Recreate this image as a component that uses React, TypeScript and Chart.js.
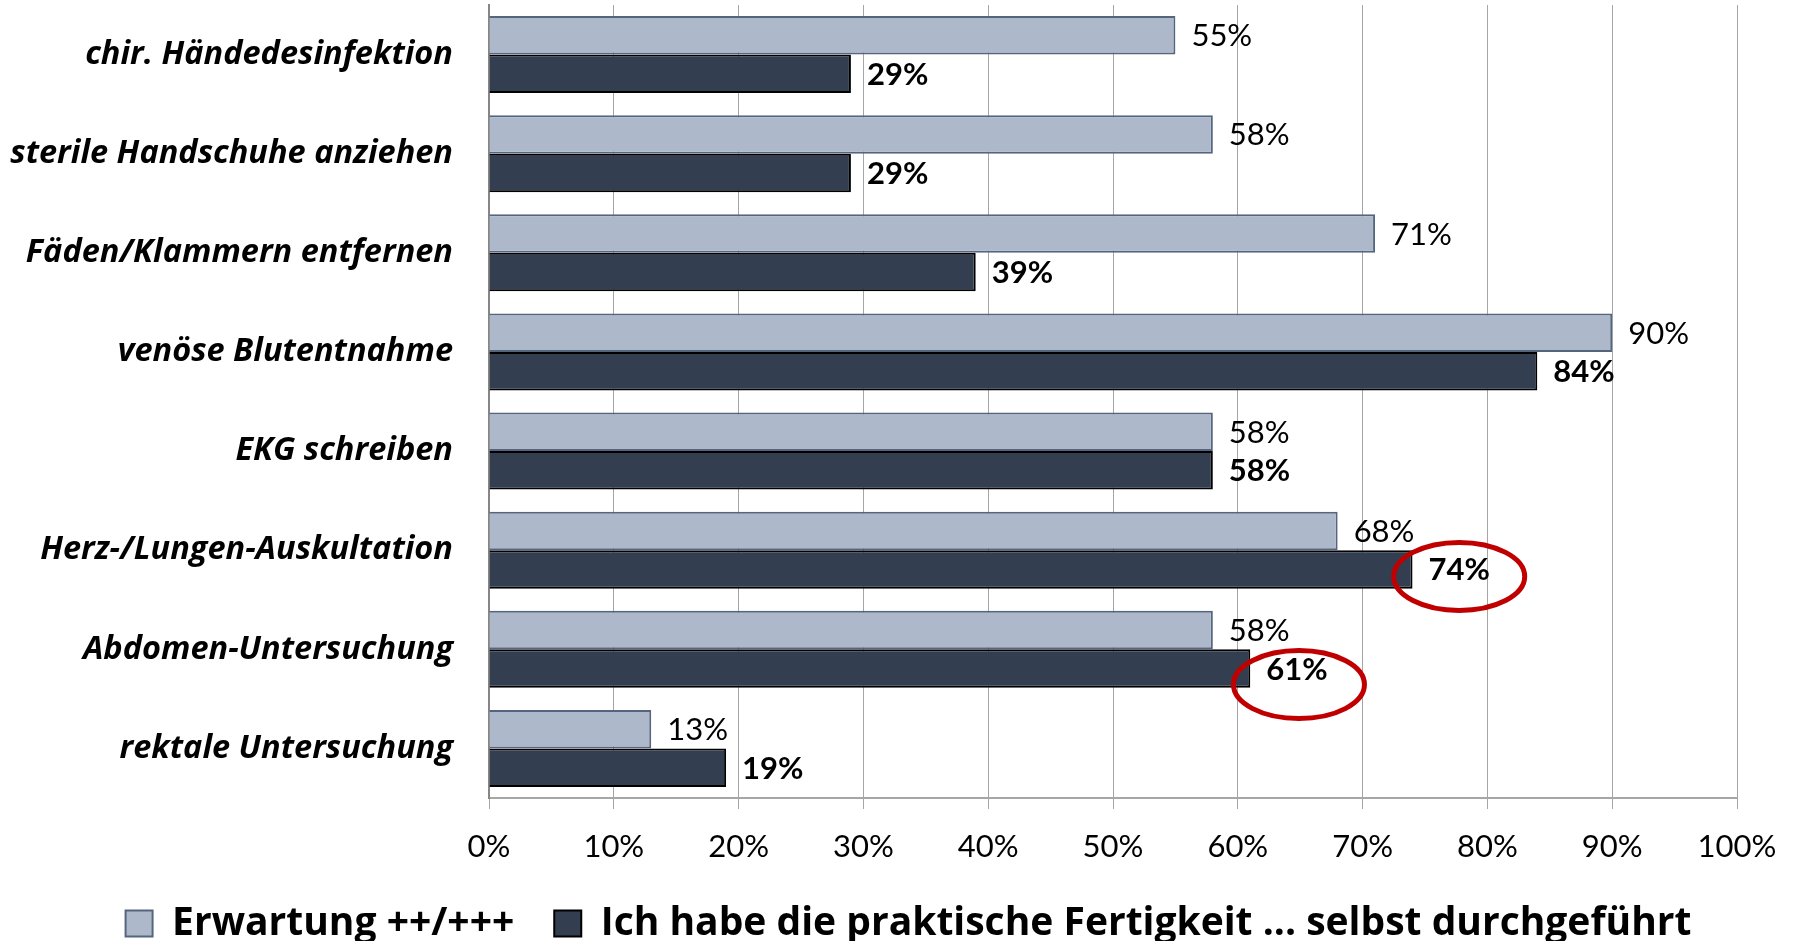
import React, { useEffect, useRef } from 'react';
import { Chart, registerables } from 'chart.js';

Chart.register(...registerables);

const categories = [
  'chir. Händedesinfektion',
  'sterile Handschuhe anziehen',
  'Fäden/Klammern entfernen',
  'venöse Blutentnahme',
  'EKG schreiben',
  'Herz-/Lungen-Auskultation',
  'Abdomen-Untersuchung',
  'rektale Untersuchung',
];
const erwartung = [55, 58, 71, 90, 58, 68, 58, 13];
const selbst = [29, 29, 39, 84, 58, 74, 61, 19];
const seriesNames = [
  'Erwartung ++/+++',
  'Ich habe die praktische Fertigkeit ... selbst durchgeführt',
];
const xTickSuffix = '%';
const circledSelbst = [5, 6];

const FONT = 'Lato';
const BOLD_FONT = '"Open Sans"';

const valueLabels = {
  id: 'valueLabels',
  afterDatasetsDraw(chart: any) {
    const ctx = chart.ctx;
    chart.data.datasets.forEach((ds: any, di: number) => {
      const meta = chart.getDatasetMeta(di);
      ctx.save();
      ctx.font = (di === 1 ? 'bold ' : '') + '31px ' + FONT;
      ctx.fillStyle = '#000000';
      ctx.textBaseline = 'middle';
      ctx.textAlign = 'left';
      meta.data.forEach((bar: any, i: number) => {
        ctx.fillText(ds.data[i] + '%', bar.x + 16, bar.y + 1);
      });
      ctx.restore();
    });
  },
};

const circles = {
  id: 'circles',
  afterDraw(chart: any) {
    const ctx = chart.ctx;
    const meta = chart.getDatasetMeta(1);
    const ds = chart.data.datasets[1];
    const offsets = [
      { dx: 0, dy: 7 },
      { dx: 2, dy: 16 },
    ];
    ctx.save();
    ctx.font = 'bold 31px ' + FONT;
    ctx.strokeStyle = '#C00000';
    ctx.lineWidth = 5;
    circledSelbst.forEach((idx, k) => {
      const bar = meta.data[idx];
      const w = ctx.measureText(ds.data[idx] + '%').width;
      const cx = bar.x + 16 + w / 2 + offsets[k].dx;
      const cy = bar.y + offsets[k].dy;
      ctx.beginPath();
      ctx.ellipse(cx, cy, 65.5, 34, 0, 0, Math.PI * 2);
      ctx.stroke();
    });
    ctx.restore();
  },
};

// shift the legend row so that it is centred like the reference
const legendShift = {
  id: 'legendShift',
  afterLayout(chart: any) {
    const lg = chart.legend;
    if (lg) {
      lg.left = 80;
      lg.width = lg.right - lg.left;
    }
  },
};

export default function App() {
  const ref = useRef<HTMLCanvasElement | null>(null);

  useEffect(() => {
    if (!ref.current) return;
    Chart.defaults.font.family = FONT;
    const chart = new Chart(ref.current, {
      type: 'bar',
      data: {
        labels: categories,
        datasets: [
          {
            label: seriesNames[0],
            data: erwartung,
            backgroundColor: '#ADB9CA',
            borderColor: '#56657E',
            borderWidth: 2,
            categoryPercentage: 0.777,
            barPercentage: 1,
          },
          {
            label: seriesNames[1],
            data: selbst,
            backgroundColor: '#333F50',
            borderColor: '#000000',
            borderWidth: 2,
            categoryPercentage: 0.777,
            barPercentage: 1,
          },
        ],
      },
      options: {
        indexAxis: 'y',
        animation: false,
        responsive: false,
        events: [],
        layout: { padding: { top: 5, right: 59, left: 0, bottom: 0 } },
        scales: {
          x: {
            min: 0,
            max: 100,
            ticks: {
              stepSize: 10,
              callback: (v: any) => v + xTickSuffix,
              font: { size: 31, family: FONT },
              color: '#000000',
              padding: 19,
              maxRotation: 0,
            },
            grid: {
              color: '#A6A6A6',
              lineWidth: 1,
              tickLength: 11,
              drawTicks: true,
              tickColor: '#A6A6A6',
            },
            border: { color: '#A6A6A6', width: 2 },
            afterFit: (s: any) => {
              s.height = 66;
            },
          },
          y: {
            ticks: {
              font: { size: 32.5, weight: 'bold', style: 'italic', family: BOLD_FONT },
              color: '#000000',
              padding: 36,
            },
            grid: { display: true, color: 'transparent', drawTicks: false },
            border: { color: '#868686', width: 2 },
            afterFit: (s: any) => {
              s.width = 489;
              s.paddingTop = 0;
              s.paddingBottom = 0;
            },
          },
        },
        plugins: {
          legend: {
            position: 'bottom',
            labels: {
              boxWidth: 27,
              boxHeight: 26,
              padding: 40,
              color: '#000000',
              font: { size: 39, weight: 'bold', family: BOLD_FONT },
            },
          },
          tooltip: { enabled: false },
        },
      } as any,
      plugins: [valueLabels, circles, legendShift],
    });
    return () => chart.destroy();
  }, []);

  return (
    <div
      style={{
        position: 'fixed',
        left: 0,
        top: 0,
        width: 1796,
        height: 953,
        background: '#ffffff',
      }}
    >
      <canvas ref={ref} width={1796} height={953} style={{ display: 'block' }} />
    </div>
  );
}
